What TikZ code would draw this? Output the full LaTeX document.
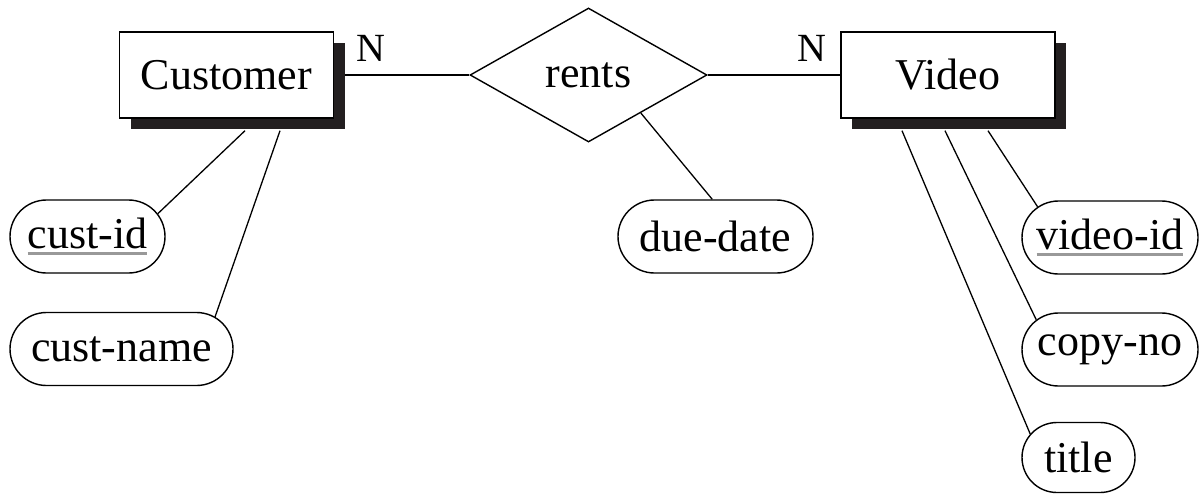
\documentclass[tikz,border=0pt]{standalone}
\usepackage{fontspec}
\setmainfont{Liberation Serif}
\usetikzlibrary{shapes.geometric,shapes.misc,shadows}
\definecolor{shadowc}{HTML}{231F20}
\newcommand{\pkeyul}[1]{\setbox0\hbox{#1}\rlap{\color{gray!80}\rule[-6pt]{\wd0}{3pt}}\box0}
\begin{document}
\begin{tikzpicture}[x=1pt,y=-1pt,
  every node/.style={font=\fontsize{44}{48}\selectfont, inner sep=0pt},
  ent/.style={rectangle, draw, line width=1.4pt, fill=white, minimum width=214pt, minimum height=86pt,
    drop shadow={shadow xshift=11pt, shadow yshift=-11pt, fill=shadowc, opacity=1}},
  rel/.style={diamond, draw, line width=1.4pt, minimum width=237pt, minimum height=134pt},
  attr/.style={rounded rectangle, draw, line width=1.4pt, minimum height=73pt},
  conn/.style={line width=1.3pt},
  card/.style={font=\fontsize{40}{44}\selectfont}
]
\useasboundingbox (0,0) rectangle (1201,496);

\node[ent] (cust) at (226.5,75) {Customer};
\node[ent] (video) at (948,75) {Video};
\node[rel] (rents) at (588.5,75) {rents};

\node[attr, minimum width=155pt] (cid) at (87.5,236.5) {\pkeyul{cust-id}};
\node[attr, minimum width=223pt] (cname) at (121.5,349) {cust-name};
\node[attr, minimum width=195pt] (due) at (715.5,236.5) {due-date};
\node[attr, minimum width=176pt] (vid) at (1110,237.5) {\pkeyul{video-id}};
\node[attr, minimum width=176pt] (copy) at (1110,349.5) {copy-no};
\node[attr, minimum width=113pt, minimum height=70pt] (title) at (1078.5,457.5) {title};

\node[card] (n1) at (371,48) {N};
\node[card] (n2) at (812,48) {N};

\coordinate (cs) at ([xshift=11pt]cust.east);
\coordinate (c1) at ([shift={(18.5,12)}]cust.south);
\coordinate (c2) at ([shift={(53.5,12)}]cust.south);
\coordinate (v1) at ([shift={(-46,12)}]video.south);
\coordinate (v2) at ([shift={(-3,12)}]video.south);
\coordinate (v3) at ([shift={(40,12)}]video.south);

\draw[conn] (cs) -- (rents.west);
\draw[conn] (rents.east) -- (video.west);
\draw[conn] (c1) -- (cid.18.4);
\draw[conn] (c2) -- (cname.19.4);
\draw[conn] (rents.-36.4) -- (due.95.5);
\draw[conn] (v3) -- (vid.157);
\draw[conn] (v2) -- (copy.158);
\draw[conn] (v1) -- (title.154.6);
\end{tikzpicture}
\end{document}
